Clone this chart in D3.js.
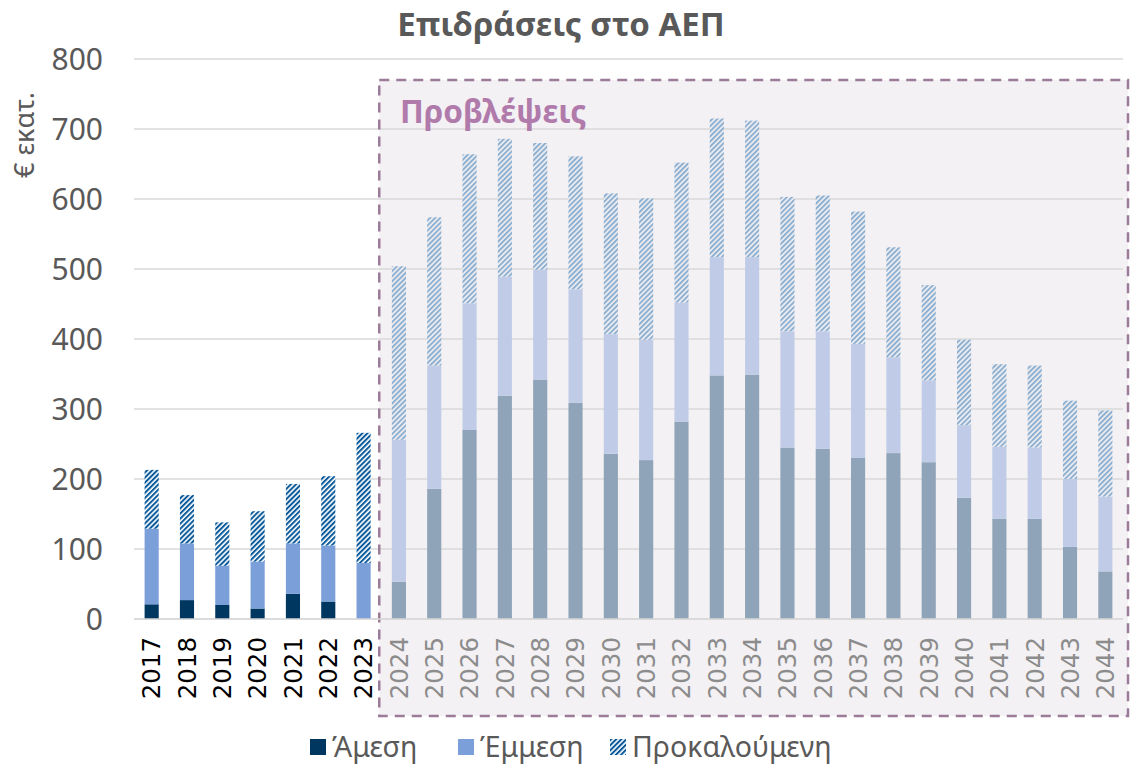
<!DOCTYPE html>
<html>
<head>
<meta charset="utf-8">
<script src="https://cdn.jsdelivr.net/npm/d3@7"></script>
<style>
  html, body { margin: 0; padding: 0; background: #ffffff; }
  svg { display: block; }
</style>
</head>
<body>
<svg id="chart" width="1130" height="765"></svg>
<script>
// Years shown on the x axis
const years = ["2017","2018","2019","2020","2021","2022","2023",
  "2024","2025","2026","2027","2028","2029","2030","2031","2032","2033",
  "2034","2035","2036","2037","2038","2039","2040","2041","2042","2043","2044"];
// First year of the forecast period
const forecastStart = "2024";

// Impact components, € million
const direct   = [21, 27, 20, 15, 36, 25, 0,
  53, 186, 270, 319, 342, 309, 236, 227, 282, 348, 349, 245, 243, 230, 237, 224, 173, 143, 143, 103, 68];
const indirect = [108, 81, 56, 67, 72, 80, 80,
  203, 176, 181, 170, 157, 162, 171, 172, 170, 169, 168, 166, 168, 163, 137, 117, 104, 103, 102, 97, 107];
const induced  = [84, 69, 62, 72, 85, 99, 186,
  248, 212, 213, 197, 181, 190, 201, 202, 200, 198, 195, 192, 194, 189, 157, 136, 122, 118, 117, 112, 123];

const seriesKeys   = ["direct", "indirect", "induced"];
const seriesLabels = ["Άμεση", "Έμμεση", "Προκαλούμενη"];
const yTicks = [0, 100, 200, 300, 400, 500, 600, 700, 800];

const title = "Επιδράσεις στο ΑΕΠ";
const yTitle = "€ εκατ.";
const forecastLabel = "Προβλέψεις";

const rows = years.map((y, i) => ({
  year: y, direct: direct[i], indirect: indirect[i], induced: induced[i],
  forecast: +y >= +forecastStart
}));

const svg = d3.select("#chart");
const font = "'Noto Sans', 'Open Sans', sans-serif";

const x = d3.scaleBand().domain(years).range([134, 1123]).paddingInner(0.6).paddingOuter(0.3);
const y = d3.scaleLinear().domain([0, 800]).range([619, 59]);

// Hatch patterns for the induced component
const defs = svg.append("defs");
function hatch(id, color, bg) {
  const p = defs.append("pattern")
    .attr("id", id).attr("patternUnits", "userSpaceOnUse")
    .attr("width", 3.6).attr("height", 3.6)
    .attr("patternTransform", "rotate(45)");
  p.append("rect").attr("width", 3.6).attr("height", 3.6).attr("fill", bg);
  p.append("rect").attr("x", 0).attr("width", 2).attr("height", 3.6).attr("fill", color);
}
hatch("hatchHist", "#0b5b9c", "#ffffff");
hatch("hatchFcst", "#8eb0d0", "#f3f1f4");

const colors = {
  hist: { direct: "#003761", indirect: "#7a9fd9", induced: "url(#hatchHist)" },
  fcst: { direct: "#8fa4b8", indirect: "#c0cce7", induced: "url(#hatchFcst)" }
};

// Forecast panel
const boxLeft = x(forecastStart) - x.step() * x.paddingInner() / 2 - 2;
svg.append("rect")
  .attr("x", boxLeft).attr("y", 80)
  .attr("width", 1128 - boxLeft).attr("height", 716 - 80)
  .attr("fill", "#f3f1f4");

// Gridlines
svg.append("g").selectAll("line").data(yTicks).join("line")
  .attr("x1", 134).attr("x2", 1123)
  .attr("y1", d => y(d)).attr("y2", d => y(d))
  .attr("stroke", "#d9d9d9").attr("stroke-width", 1.5);

// Y axis labels
const yAxis = d3.axisLeft(y).tickValues(yTicks).tickSize(0).tickPadding(0);
const yg = svg.append("g").attr("transform", "translate(103,0)").call(yAxis);
yg.select(".domain").remove();
yg.selectAll("text")
  .attr("font-family", font).attr("font-size", 30).attr("fill", "#595959")
  .attr("dy", "0.36em");

// Stacked bars
const stack = d3.stack().keys(seriesKeys);
const layers = stack(rows);
svg.append("g").selectAll("g").data(layers).join("g")
  .selectAll("rect").data(d => d.map(v => ({ key: d.key, v }))).join("rect")
  .attr("x", d => x(d.v.data.year))
  .attr("width", x.bandwidth())
  .attr("y", d => y(d.v[1]))
  .attr("height", d => Math.max(0, y(d.v[0]) - y(d.v[1])))
  .attr("fill", d => colors[d.v.data.forecast ? "fcst" : "hist"][d.key]);

// Dashed frame around forecast panel
svg.append("rect")
  .attr("x", boxLeft).attr("y", 80)
  .attr("width", 1128 - boxLeft).attr("height", 716 - 80)
  .attr("fill", "none").attr("stroke", "#9b7b98")
  .attr("stroke-width", 2.5).attr("stroke-dasharray", "10,7");

svg.append("text")
  .attr("x", 400).attr("y", 123)
  .attr("font-family", font).attr("font-weight", "bold").attr("font-size", 31.5)
  .attr("fill", "#b07bab").text(forecastLabel);

// X axis labels (vertical)
const xAxis = d3.axisBottom(x).tickSize(0).tickPadding(0);
const xg = svg.append("g").attr("transform", "translate(0,637)").call(xAxis);
xg.select(".domain").remove();
xg.selectAll("text")
  .attr("font-family", "'DejaVu Sans', sans-serif").attr("font-size", 24.5)
  .attr("fill", d => (+d >= +forecastStart ? "#8c8c8c" : "#000000"))
  .attr("transform", "rotate(-90)")
  .attr("text-anchor", "end")
  .attr("x", 0).attr("y", 0).attr("dx", 0).attr("dy", "0.36em");

// Baseline
svg.append("line")
  .attr("x1", 134).attr("x2", 1123).attr("y1", y(0)).attr("y2", y(0))
  .attr("stroke", "#d9d9d9").attr("stroke-width", 1.5);

// Title
svg.append("text")
  .attr("x", 561).attr("y", 36).attr("text-anchor", "middle")
  .attr("font-family", font).attr("font-weight", "bold").attr("font-size", 33)
  .attr("fill", "#595959").text(title);

// Y axis title
svg.append("text")
  .attr("transform", "translate(34,135) rotate(-90)")
  .attr("text-anchor", "middle")
  .attr("font-family", font).attr("font-size", 27)
  .attr("fill", "#595959").text(yTitle);

// Legend
const legendItems = [
  { label: seriesLabels[0], fill: colors.hist.direct, x: 310 },
  { label: seriesLabels[1], fill: colors.hist.indirect, x: 458 },
  { label: seriesLabels[2], fill: colors.hist.induced, x: 610 }
];
const lg = svg.append("g").selectAll("g").data(legendItems).join("g")
  .attr("transform", d => `translate(${d.x},739)`);
lg.append("rect").attr("width", 16).attr("height", 16).attr("fill", d => d.fill);
lg.append("text")
  .attr("x", 22).attr("y", 8).attr("dy", "0.36em")
  .attr("font-family", font).attr("font-size", 28.5).attr("fill", "#595959")
  .text(d => d.label);
</script>
</body>
</html>
